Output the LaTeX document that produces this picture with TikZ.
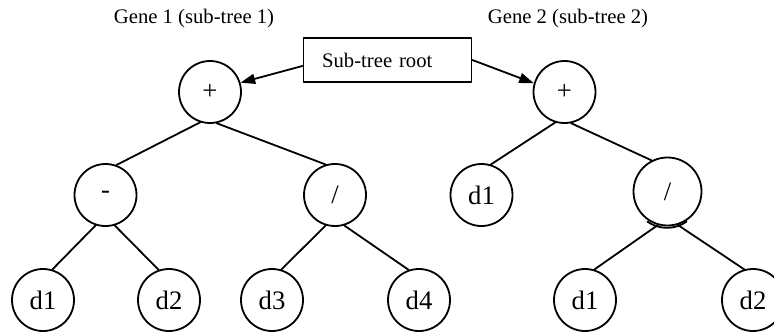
\documentclass[tikz,border=0pt]{standalone}
\usepackage{fontspec}
\setmainfont{Liberation Serif}
\usetikzlibrary{arrows.meta}
\tikzstyle{every path}=[line width=1.35pt,line cap=round,line join=round]
\tikzstyle{gene}=[circle,draw,minimum size=46.5pt,inner sep=0pt,font=\fontsize{20}{24}\selectfont]
\tikzstyle{caption}=[font=\fontsize{15.5}{18}\selectfont]
\tikzstyle{pointer}=[-{Triangle[length=11pt,width=7.5pt]}]

\begin{document}
\begin{tikzpicture}[x=0.75pt,y=-0.75pt]
  \useasboundingbox (0,0) rectangle (774,333);
  % captions
  \node[caption] (geneA) at (194,19) {Gene 1 (sub-tree 1)};
  \node[caption] (geneB) at (568,19) {Gene 2 (sub-tree 2)};
  \node[caption,draw,minimum height=33pt,text width=98pt,inner xsep=14pt,align=left]
    (rootbox) at (387.5,60) {Sub-tree root};
  % sub-tree 1
  \node[gene] (plusA) at (210,92) {+};
  \node[gene] (minusA) at (105.5,195) {-};
  \node[gene] (divA) at (335,195) {/};
  \node[gene] (dA1) at (43,300) {d1};
  \node[gene] (dA2) at (169,300) {d2};
  \node[gene] (dA3) at (272,300) {d3};
  \node[gene] (dA4) at (419,300) {d4};
  % sub-tree 2
  \node[gene] (plusB) at (564.5,92) {+};
  \node[gene] (dB1) at (481.5,195) {d1};
  \node[gene,minimum size=51pt] (divB) at (667.5,191.5) {/};
  \node[gene] (dB2) at (585,300) {d1};
  \node[gene] (dB3) at (753,300) {d2};
  \draw ([yshift=-1.2pt]divB.235) arc[start angle=235,end angle=305,radius=25.5pt];
  % edges
  \draw (plusA.252)--(minusA.70)
  (plusA.282)--(divA.107)
  (minusA.252)--(dA1.73)
  (minusA.287)--(dA2.109)
  (divA.253)--(dA3.73)
  (divA.287)--(dA4.109)
  (plusB.253)--(dB1.73)
  (plusB.282)--(divB.117)
  (divB.254)--(dB2.73)
  (divB.287)--(dB3.106);
  % arrows
  \draw[pointer] (rootbox.184)--(plusA.17);
  \draw[pointer] (rootbox.east)--(plusB.164);
\end{tikzpicture}
\end{document}
